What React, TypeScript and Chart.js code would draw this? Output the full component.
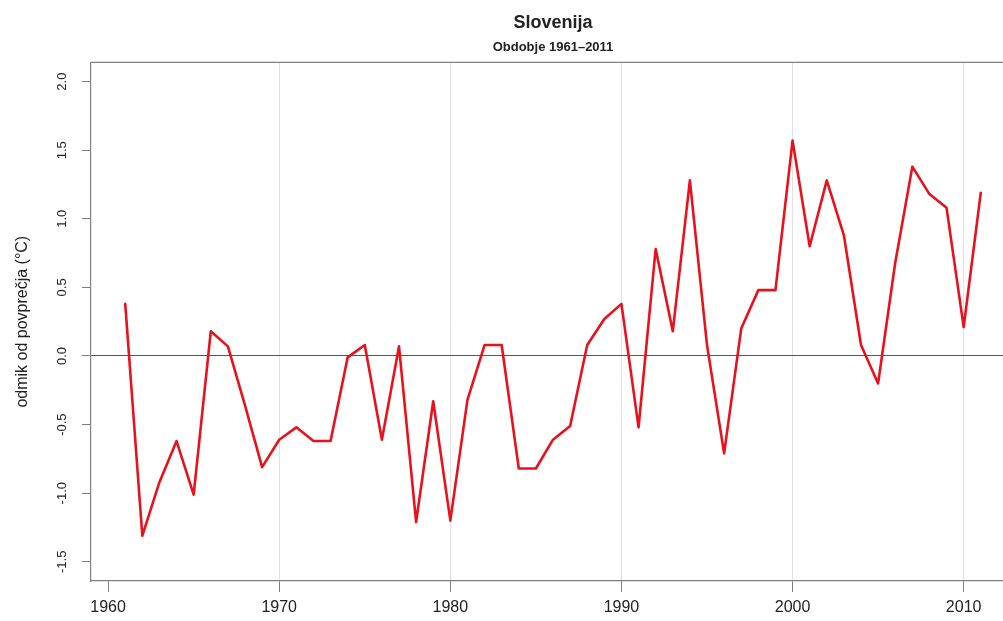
import React, { useEffect, useRef } from "react";
import { Chart, registerables } from "chart.js";

Chart.register(...registerables);

// Annual temperature anomaly for Slovenia, 1961–2011 (°C, deviation from the mean)
const years = [
  1961, 1962, 1963, 1964, 1965, 1966, 1967, 1968, 1969, 1970,
  1971, 1972, 1973, 1974, 1975, 1976, 1977, 1978, 1979, 1980,
  1981, 1982, 1983, 1984, 1985, 1986, 1987, 1988, 1989, 1990,
  1991, 1992, 1993, 1994, 1995, 1996, 1997, 1998, 1999, 2000,
  2001, 2002, 2003, 2004, 2005, 2006, 2007, 2008, 2009, 2010,
  2011,
];

const anomalies = [
  0.38, -1.31, -0.92, -0.62, -1.01, 0.18, 0.07, -0.36, -0.81, -0.61,
  -0.52, -0.62, -0.62, -0.01, 0.08, -0.61, 0.07, -1.21, -0.33, -1.2,
  -0.32, 0.08, 0.08, -0.82, -0.82, -0.61, -0.51, 0.08, 0.27, 0.38,
  -0.52, 0.78, 0.18, 1.28, 0.08, -0.71, 0.2, 0.48, 0.48, 1.57,
  0.8, 1.28, 0.88, 0.08, -0.2, 0.68, 1.38, 1.18, 1.08, 0.21,
  1.19,
];

const xTickValues = [1960, 1970, 1980, 1990, 2000, 2010];
const xGridValues = [1970, 1980, 1990, 2000, 2010];
const yTickValues = [-1.5, -1.0, -0.5, 0.0, 0.5, 1.0, 1.5, 2.0];

const chartTitle = "Slovenija";
const chartSubtitle = "Obdobje 1961–2011";
const yAxisTitle = "odmik od povprečja (°C)";

const FONT = "'Liberation Sans', Arial, Helvetica, sans-serif";
const TEXT = "#222";
const AXIS = "#808080";

// Closes the plot box along its top edge
const plotFrame = {
  id: "plotFrame",
  afterDraw(chart: any) {
    const { ctx, chartArea } = chart;
    ctx.save();
    ctx.strokeStyle = AXIS;
    ctx.lineWidth = 1.2;
    ctx.beginPath();
    ctx.moveTo(chartArea.left, chartArea.top);
    ctx.lineTo(chartArea.right, chartArea.top);
    ctx.stroke();
    ctx.restore();
  },
};

export default function App() {
  const canvasRef = useRef<HTMLCanvasElement | null>(null);

  useEffect(() => {
    const canvas = canvasRef.current;
    if (!canvas) return;

    const points = years.map((year, i) => ({ x: year, y: anomalies[i] }));

    const chart = new Chart(canvas, {
      type: "line",
      data: {
        datasets: [
          {
            data: points,
            borderColor: "#e8121c",
            borderWidth: 2.6,
            borderJoinStyle: "round",
            borderCapStyle: "round",
            pointRadius: 0,
            pointHoverRadius: 0,
            tension: 0,
            fill: false,
          },
        ],
      },
      options: {
        responsive: false,
        maintainAspectRatio: false,
        devicePixelRatio: 1,
        animation: false,
        events: [],
        layout: { padding: { left: 0, right: 0, top: 0, bottom: 0 } },
        plugins: {
          legend: { display: false },
          tooltip: { enabled: false },
          title: {
            display: true,
            text: chartTitle,
            fullSize: false,
            color: TEXT,
            font: { family: FONT, size: 18, weight: "bold", lineHeight: 1.2 },
            padding: { top: 12, bottom: 4 },
          },
          subtitle: {
            display: true,
            text: chartSubtitle,
            fullSize: false,
            color: TEXT,
            font: { family: FONT, size: 13, weight: "bold", lineHeight: 1.2 },
            padding: { top: 1.6, bottom: 7.6 },
          },
        },
        scales: {
          x: {
            type: "linear",
            min: 1959,
            max: 2013,
            afterBuildTicks: (scale: any) => {
              scale.ticks = xTickValues.map((v) => ({ value: v }));
            },
            afterFit: (scale: any) => {
              scale.height = 40;
            },
            ticks: {
              autoSkip: false,
              maxRotation: 0,
              minRotation: 0,
              padding: 6,
              color: TEXT,
              font: { family: FONT, size: 16, lineHeight: 1.2 },
              callback: (v: any) => String(v),
            },
            grid: {
              drawOnChartArea: true,
              drawTicks: true,
              tickLength: 11,
              tickColor: AXIS,
              lineWidth: 1,
              color: (ctx: any) =>
                ctx.tick && xGridValues.includes(ctx.tick.value)
                  ? "#e2e2e2"
                  : "rgba(0,0,0,0)",
            },
            border: { display: true, color: AXIS, width: 1.2 },
          },
          y: {
            type: "linear",
            min: -1.64,
            max: 2.14,
            afterBuildTicks: (scale: any) => {
              scale.ticks = yTickValues.map((v) => ({ value: v }));
            },
            afterFit: (scale: any) => {
              scale.width = 91;
            },
            ticks: {
              autoSkip: false,
              minRotation: 90,
              maxRotation: 90,
              crossAlign: "center",
              padding: 8,
              color: TEXT,
              font: { family: FONT, size: 13, lineHeight: 1.2 },
              callback: (v: any) => Number(v).toFixed(1),
            },
            grid: {
              drawOnChartArea: true,
              drawTicks: true,
              tickLength: 9,
              tickColor: AXIS,
              lineWidth: 1,
              color: (ctx: any) =>
                ctx.tick && ctx.tick.value === 0 ? "#555" : "rgba(0,0,0,0)",
            },
            border: { display: true, color: AXIS, width: 1.2 },
            title: {
              display: true,
              text: yAxisTitle,
              color: TEXT,
              font: { family: FONT, size: 16, lineHeight: 1.2 },
              padding: { top: 13, bottom: 0 },
            },
          },
        },
      },
      plugins: [plotFrame],
    });

    return () => {
      chart.destroy();
    };
  }, []);

  return (
    <div
      style={{
        position: "absolute",
        left: 0,
        top: 0,
        width: 1003,
        height: 621,
        overflow: "hidden",
        background: "#fff",
      }}
    >
      <canvas
        ref={canvasRef}
        width={1015}
        height={621}
        style={{ display: "block", width: 1015, height: 621 }}
      />
    </div>
  );
}
